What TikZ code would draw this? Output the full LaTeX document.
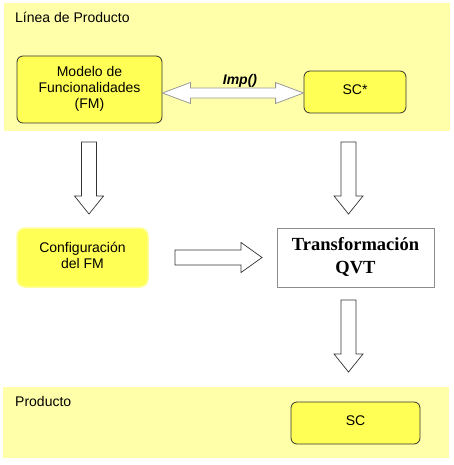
\documentclass[tikz,border=0pt]{standalone}
\usepackage{fontspec}
\setmainfont{Liberation Sans}
\newfontfamily\serifbold{Liberation Serif}
\usetikzlibrary{calc}
\definecolor{band}{HTML}{FFFFAA}
\definecolor{boxy}{HTML}{FFFF55}
\definecolor{glow}{HTML}{FFFF99}
\newcommand\linesof[2]{\raisebox{#1}{\begin{tabular}{@{}c@{}}#2\end{tabular}}}
\tikzset{
  bandbox/.style={fill=band, draw=none},
  ybox/.style={draw=black!80, fill=boxy, rounded corners=6pt, line width=0.8pt, align=center, font=\fontsize{14}{16}\selectfont, inner sep=0pt},
  gbox/.style={draw=glow, fill=boxy, rounded corners=8pt, line width=1.5pt, align=center, font=\fontsize{14}{16}\selectfont, inner sep=0pt},
  wbox/.style={draw=black!45, fill=white, line width=0.7pt, align=center, font=\serifbold\bfseries\fontsize{18.5}{24}\selectfont, inner sep=0pt},
  blockarr/.style={draw=black!80, fill=white, line width=0.7pt, line join=miter},
  grayarr/.style={draw=black!40, fill=white, line width=0.8pt, line join=miter},
  bandlabel/.style={anchor=west, font=\fontsize{14}{16}\selectfont, inner sep=0pt},
}
\begin{document}
\begin{tikzpicture}[x=1pt,y=-1pt]
\useasboundingbox (0,0) rectangle (453,465);
% bands
\path[bandbox] (4,3) rectangle (450,131);
\path[bandbox] (3,387) rectangle (449,458);
\node[bandlabel] (lp) at (15,17) {Línea de Producto};
\node[bandlabel] (prod) at (15,401) {Producto};
% boxes
\node[ybox, minimum width=145pt, minimum height=67pt] (fm) at (89.5,89.5) {\linesof{-2pt}{Modelo de\\Funcionalidades\\(FM)}};
\node[ybox, minimum width=102pt, minimum height=42pt] (scs) at (355,92) {\raisebox{4pt}{SC*}};
\node[gbox, minimum width=131pt, minimum height=59pt] (conf) at (82.5,257.5) {\linesof{2pt}{Configuración\\del FM}};
\node[wbox, minimum width=157pt, minimum height=59pt] (qvt) at (355.5,257.5) {\linesof{-2pt}{Transformación\\[-1pt]QVT}};
\node[ybox, minimum width=129pt, minimum height=42pt] (sc) at (355.5,423) {\raisebox{5pt}{SC}};
% double arrow Imp()
\coordinate (da) at (fm.east |- 0,93);
\coordinate (db) at (scs.west |- 0,93);
\draw[grayarr] (da) -- ($(da)+(28,-10.5)$) -- ($(da)+(28,-5)$) -- ($(db)+(-28,-5)$) -- ($(db)+(-28,-10.5)$) -- (db)
  -- ($(db)+(-28,10.5)$) -- ($(db)+(-28,5)$) -- ($(da)+(28,5)$) -- ($(da)+(28,10.5)$) -- cycle;
\node[font=\bfseries\itshape\fontsize{14}{16}\selectfont, inner sep=0pt] (imp) at (240,81) {Imp()};
% down arrows
\coordinate (a1s) at (89,142);
\coordinate (a1e) at (89,214);
\coordinate (a2s) at (348.5,142);
\coordinate (a2e) at (348.5,214);
\coordinate (a3s) at (348.5,300);
\coordinate (a3e) at (348.5,372);
\foreach \s/\e in {a1s/a1e, a2s/a2e, a3s/a3e}{
  \draw[blockarr] ($(\s)+(-7.5,0)$) -- ($(\s)+(7.5,0)$) -- ($(\e)+(7.5,-18)$) -- ($(\e)+(14.5,-18)$) -- (\e)
    -- ($(\e)+(-14.5,-18)$) -- ($(\e)+(-7.5,-18)$) -- cycle;
}
% right arrow
\coordinate (rs) at (175,257.5);
\coordinate (re) at (262,257.5);
\draw[blockarr] ($(rs)+(0,-7.5)$) -- ($(re)+(-21,-7.5)$) -- ($(re)+(-21,-15)$) -- (re)
  -- ($(re)+(-21,15)$) -- ($(re)+(-21,7.5)$) -- ($(rs)+(0,7.5)$) -- cycle;
\end{tikzpicture}
\end{document}
